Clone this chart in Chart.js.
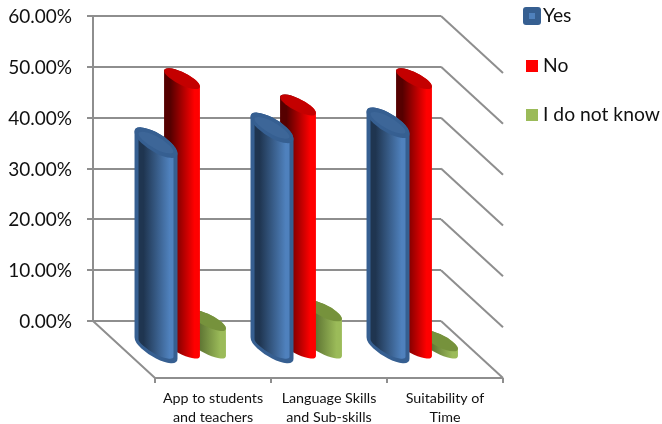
<!DOCTYPE html>
<html>
<head>
<meta charset="utf-8">
<style>
  html, body { margin: 0; padding: 0; background: #fff; }
  canvas { display: block; }
</style>
<script src="https://cdn.jsdelivr.net/npm/chart.js@4"></script>
</head>
<body>
<canvas id="myChart" width="662" height="424"></canvas>
<script>
const categories = [
  ["App to students", "and teachers"],
  ["Language Skills", "and Sub-skills"],
  ["Suitability of", "Time"],
];
const seriesNames = ["Yes", "No", "I do not know"];
const yesValues = [40.6, 43.5, 44.5];
const noValues = [53.2, 48.0, 53.2];
const unsureValues = [5.6, 7.5, 1.6];

// floor depth of the 3D box, and how far into it the cylinders stand
const boxDx = 62;
const boxDy = 57;
const barDx = 31;
const barDy = 28;
const lineGray = "#8e8e8e";

function drawCylinder(ctx, bar, ds) {
  const rx = bar.width / 2;
  const ry = rx * 0.38 * ds.capScale;
  const cy = bar.y + barDy;
  const by = bar.base + barDy;
  const border = bar.options.borderWidth;

  ctx.save();
  // shear so that the cap slopes down to the right
  ctx.transform(1, 0.44 * ds.capScale, 0, 1, bar.x + barDx, 0);

  const grad = ctx.createLinearGradient(-rx, 0, rx, 0);
  grad.addColorStop(0, ds.darkColor);
  grad.addColorStop(0.18, ds.darkColor);
  grad.addColorStop(0.85, ds.backgroundColor);
  grad.addColorStop(1, ds.backgroundColor);

  ctx.beginPath();
  ctx.moveTo(-rx, cy);
  ctx.lineTo(-rx, by);
  ctx.ellipse(0, by, rx, ry, 0, Math.PI, 0, true);
  ctx.lineTo(rx, cy);
  ctx.ellipse(0, cy, rx, ry, 0, 0, Math.PI, true);
  ctx.closePath();
  ctx.fillStyle = grad;
  ctx.fill();
  if (border) {
    ctx.lineWidth = border;
    ctx.strokeStyle = bar.options.borderColor;
    ctx.lineJoin = "round";
    ctx.stroke();
  }

  ctx.beginPath();
  ctx.ellipse(0, cy, rx, ry, 0, 0, Math.PI * 2);
  ctx.fillStyle = ds.capColor;
  ctx.fill();
  if (border) ctx.stroke();
  ctx.restore();
}

const cylinders = {
  id: "cylinders",
  // back wall diagonals, floor and axis ticks sit under the bars
  beforeDatasetsDraw(chart) {
    const { ctx, chartArea: area, scales } = chart;
    ctx.save();
    ctx.strokeStyle = lineGray;
    ctx.lineWidth = 2;
    scales.y.ticks.forEach((t) => {
      const y = scales.y.getPixelForValue(t.value);
      ctx.beginPath();
      ctx.moveTo(area.right, y);
      ctx.lineTo(area.right + boxDx, y + boxDy);
      ctx.stroke();
    });
    ctx.beginPath();
    ctx.moveTo(area.left, area.bottom);
    ctx.lineTo(area.left + boxDx, area.bottom + boxDy);
    ctx.lineTo(area.right + boxDx, area.bottom + boxDy);
    ctx.stroke();
    const step = (area.right - area.left) / categories.length;
    for (let i = 0; i <= categories.length; i++) {
      const x = area.left + boxDx + step * i;
      ctx.beginPath();
      ctx.moveTo(x, area.bottom + boxDy);
      ctx.lineTo(x, area.bottom + boxDy + 5);
      ctx.stroke();
    }
    ctx.restore();
  },
  beforeDatasetDraw(chart, args) {
    const ds = chart.data.datasets[args.index];
    args.meta.data.forEach((bar) => {
      drawCylinder(chart.ctx, bar, ds);
    });
    return false;
  },
  afterDraw(chart) {
    const { ctx, chartArea: area, scales } = chart;
    ctx.save();
    ctx.fillStyle = "#111";
    ctx.textBaseline = "middle";

    ctx.font = "14.3px Lato";
    ctx.textAlign = "center";
    categories.forEach((lines, i) => {
      const x = scales.x.getPixelForTick(i) + boxDx;
      lines.forEach((line, j) => {
        ctx.fillText(line, x, area.bottom + boxDy + 20 + j * 19);
      });
    });

    // legend
    ctx.font = "19.3px Lato";
    ctx.textAlign = "left";
    const legendY = [16, 66, 115];
    chart.data.datasets.forEach((ds, i) => {
      if (i === 0) {
        ctx.fillStyle = ds.borderColor;
        ctx.beginPath();
        ctx.roundRect(523, legendY[i] - 9, 18, 18, 3);
        ctx.fill();
        ctx.fillStyle = ds.backgroundColor;
        ctx.fillRect(529, legendY[i] - 3, 6, 6);
      } else {
        ctx.fillStyle = ds.backgroundColor;
        ctx.fillRect(526, legendY[i] - 6, 12, 12);
      }
      ctx.fillStyle = "#111";
      ctx.fillText(seriesNames[i], 543, legendY[i]);
    });
    ctx.restore();
  },
};

new Chart(document.getElementById("myChart"), {
  type: "bar",
  data: {
    labels: categories,
    datasets: [
      {
        label: seriesNames[0],
        data: yesValues,
        backgroundColor: "#4f81bd",
        darkColor: "#1f3550",
        capColor: "#3d6698",
        capScale: 1.15,
        borderColor: "#365f91",
        borderWidth: 4,
        barPercentage: 1.5,
      },
      {
        label: seriesNames[1],
        data: noValues,
        backgroundColor: "#ff0000",
        darkColor: "#560000",
        capColor: "#c40000",
        capScale: 1,
        borderWidth: 0,
        barPercentage: 1.38,
      },
      {
        label: seriesNames[2],
        data: unsureValues,
        backgroundColor: "#9bbb59",
        darkColor: "#566b2e",
        capColor: "#76923c",
        capScale: 1,
        borderWidth: 0,
        barPercentage: 1.38,
      },
    ],
  },
  plugins: [cylinders],
  options: {
    responsive: false,
    animation: false,
    categoryPercentage: 0.672,
    layout: { padding: { left: 0, top: 16, right: 221, bottom: 103 } },
    plugins: {
      legend: { display: false },
      tooltip: { enabled: false },
    },
    scales: {
      x: {
        afterFit: (scale) => {
          scale.height = 0;
          scale.paddingLeft = 0;
          scale.paddingRight = 0;
        },
        ticks: { display: false },
        grid: { display: false },
        border: { display: false },
      },
      y: {
        min: 0,
        max: 60,
        afterFit: (scale) => {
          scale.width = 93;
          scale.paddingTop = 0;
          scale.paddingBottom = 0;
        },
        ticks: {
          stepSize: 10,
          padding: 15,
          labelOffset: 1,
          color: "#111",
          font: { family: "Lato", size: 19 },
          callback: (v) => v.toFixed(2) + "%",
        },
        grid: { color: lineGray, lineWidth: 2, tickLength: 6 },
        border: { color: lineGray, width: 2 },
      },
    },
  },
});
</script>
</body>
</html>
